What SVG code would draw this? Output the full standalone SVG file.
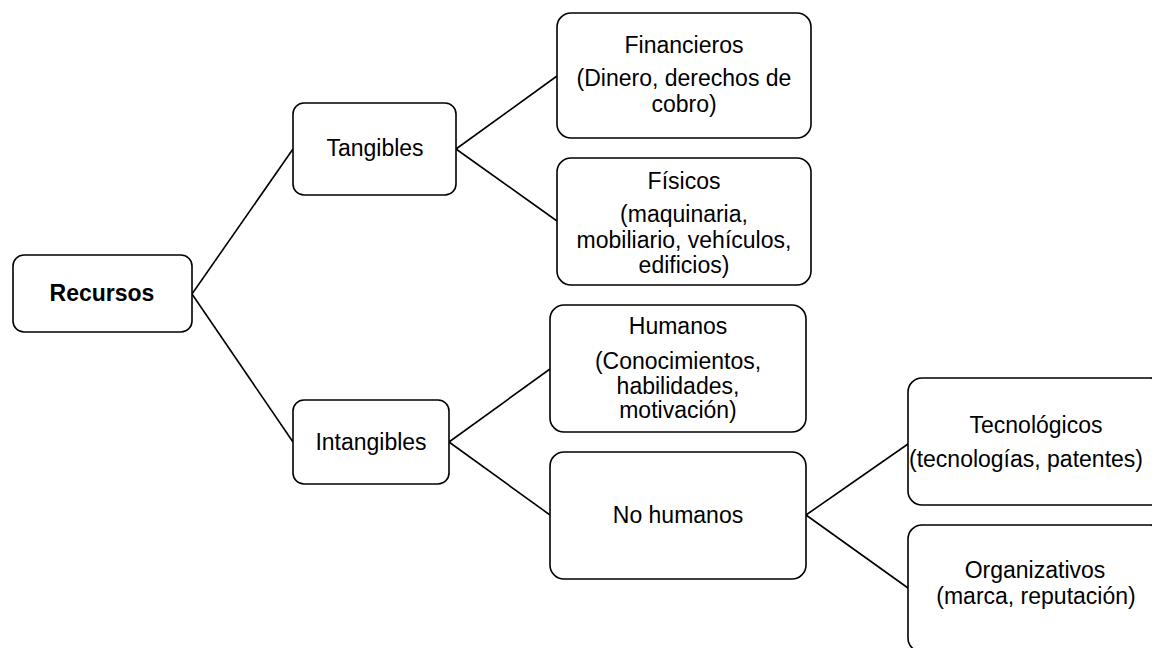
<svg xmlns="http://www.w3.org/2000/svg" width="1152" height="648" viewBox="0 0 1152 648">
<style>
.box{fill:#fff;stroke:#000;stroke-width:1.6}
.t{font-family:"Liberation Sans",Arial,sans-serif;font-size:23px;fill:#000;text-anchor:middle}
.b{font-weight:bold}
.c{stroke:#000;stroke-width:1.6;fill:none}
</style>
<rect width="1152" height="648" fill="#fff"/>
<g id="connectors">
<line class="c" x1="192" y1="294" x2="293" y2="149"/>
<line class="c" x1="192" y1="294" x2="293" y2="442"/>
<line class="c" x1="456" y1="149" x2="557" y2="76"/>
<line class="c" x1="456" y1="149" x2="557" y2="221"/>
<line class="c" x1="449" y1="442" x2="550" y2="369"/>
<line class="c" x1="449" y1="442" x2="550" y2="515"/>
<line class="c" x1="806" y1="515" x2="908" y2="444"/>
<line class="c" x1="806" y1="515" x2="908" y2="588"/>
</g>
<g id="recursos">
<rect class="box" x="13" y="255" width="179" height="77" rx="11"/>
<text class="t b" x="102" y="301">Recursos</text>
</g>
<g id="tangibles">
<rect class="box" x="293" y="103" width="163" height="92" rx="11"/>
<text class="t" x="375" y="156">Tangibles</text>
</g>
<g id="intangibles">
<rect class="box" x="293" y="400" width="156" height="84" rx="11"/>
<text class="t" x="371" y="450">Intangibles</text>
</g>
<g id="financieros">
<rect class="box" x="557" y="13" width="254" height="125" rx="14"/>
<text class="t" x="684" y="53">Financieros</text>
<text class="t" x="684" y="86">(Dinero, derechos de</text>
<text class="t" x="684" y="112">cobro)</text>
</g>
<g id="fisicos">
<rect class="box" x="557" y="158" width="254" height="127" rx="14"/>
<text class="t" x="684" y="189">Físicos</text>
<text class="t" x="684" y="222">(maquinaria,</text>
<text class="t" x="684" y="248">mobiliario, vehículos,</text>
<text class="t" x="684" y="273">edificios)</text>
</g>
<g id="humanos">
<rect class="box" x="550" y="305" width="256" height="127" rx="14"/>
<text class="t" x="678" y="334">Humanos</text>
<text class="t" x="678" y="369">(Conocimientos,</text>
<text class="t" x="678" y="394">habilidades,</text>
<text class="t" x="678" y="418">motivación)</text>
</g>
<g id="no-humanos">
<rect class="box" x="550" y="452" width="256" height="127" rx="14"/>
<text class="t" x="678" y="523">No humanos</text>
</g>
<g id="tecnologicos">
<rect class="box" x="908" y="378" width="256" height="127" rx="14"/>
<text class="t" x="1036" y="433">Tecnológicos</text>
<text class="t" x="909" y="467" style="text-anchor:start">(tecnologías, patentes)</text>
</g>
<g id="organizativos">
<rect class="box" x="908" y="525" width="256" height="127" rx="14"/>
<text class="t" x="1035" y="578">Organizativos</text>
<text class="t" x="1036" y="604">(marca, reputación)</text>
</g>
</svg>
